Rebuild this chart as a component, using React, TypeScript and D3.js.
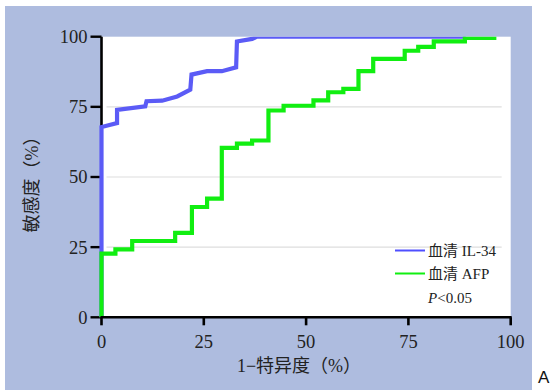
import React from "react";
import * as d3 from "d3";

const il34X = [0, 0, 3.8, 3.8, 10.7, 11.0, 14.8, 18.5, 21.7, 22.0, 25.8, 29.4, 32.9, 33.1, 36.8, 38.0, 89.0];
const il34Y = [0, 67.8, 69.2, 73.9, 75.2, 77.0, 77.2, 78.7, 81.1, 86.5, 87.7, 87.7, 89.1, 98.3, 99.2, 100, 100];

const afpX = [0, 0, 3.4, 3.4, 7.5, 7.5, 18.0, 18.0, 22.1, 22.1, 25.8, 25.8, 29.4, 29.4, 33.1, 33.1, 36.8, 36.8, 40.8, 40.8, 44.5, 44.5, 51.8, 51.8, 55.4, 55.4, 59.1, 59.1, 62.8, 62.8, 66.4, 66.4, 74.1, 74.1, 77.4, 77.4, 81.2, 81.2, 88.8, 88.8, 96.5];
const afpY = [0, 22.7, 22.7, 24.2, 24.2, 27.2, 27.2, 30.1, 30.1, 39.3, 39.3, 42.3, 42.3, 60.4, 60.4, 61.9, 61.9, 63.0, 63.0, 73.7, 73.7, 75.4, 75.4, 77.3, 77.3, 80.2, 80.2, 81.4, 81.4, 87.7, 87.7, 92.1, 92.1, 95.0, 95.0, 96.4, 96.4, 98.3, 98.3, 99.6, 99.6];

const xTicks = [0, 25, 50, 75, 100];
const yTicks = [0, 25, 50, 75, 100];
const gridValues = [25, 50, 75];

const seriesNames = ["血清 IL-34", "血清 AFP"];
const seriesColors = ["#5b5bf6", "#11ee11"];
const legendColors = ["#4f4fff", "#11ee11"];

const xLabel = "1−特异度（%）";
const yLabel = "敏感度（%）";

const W = 552;
const H = 390;
const serif = "'Liberation Serif', 'Times New Roman', 'Noto Sans CJK SC', serif";

export default function App() {
  const x = d3.scaleLinear().domain([0, 100]).range([101.5, 510.7]);
  const y = d3.scaleLinear().domain([0, 100]).range([317.3, 36.7]);

  const line = d3
    .line<[number, number]>()
    .x((d) => x(d[0]))
    .y((d) => y(d[1]));

  const il34 = il34X.map((v, i) => [v, il34Y[i]] as [number, number]);
  const afp = afpX.map((v, i) => [v, afpY[i]] as [number, number]);

  const [x0, x1] = x.range();
  const [yb, yt] = y.range();

  return (
    <svg
      width={W}
      height={H}
      style={{ position: "fixed", left: 0, top: 0, background: "#ffffff" }}
    >
      <defs>
        <clipPath id="plotClip">
          <rect x={x0 - 20} y={yt} width={x1 - x0 + 40} height={yb - yt + 20} />
        </clipPath>
      </defs>
      <rect x={5} y={6} width={527} height={384} fill="#aebcdf" />
      <rect x={x0} y={yt} width={x1 - x0} height={yb - yt} fill="#ffffff" />
      {gridValues.map((g) => (
        <line
          key={"g" + g}
          x1={x0 + 5}
          x2={x1 - 9}
          y1={y(g)}
          y2={y(g)}
          stroke="#dedede"
          strokeWidth={1.2}
        />
      ))}
      {/* y axis */}
      <line x1={x0} x2={x0} y1={yt} y2={yb} stroke="#000" strokeWidth={2.6} />
      {yTicks.map((t) => (
        <g key={"yt" + t}>
          <line x1={x0 - 11} x2={x0} y1={y(t)} y2={y(t)} stroke="#000" strokeWidth={2.4} />
          <text
            x={x0 - 14}
            y={y(t)}
            dy="0.35em"
            textAnchor="end"
            fontFamily={serif}
            fontSize={18.5}
            fill="#222"
          >
            {t}
          </text>
        </g>
      ))}
      <g clipPath="url(#plotClip)">
        <path d={line(il34) || ""} fill="none" stroke={seriesColors[0]} strokeWidth={4.2} />
        <path d={line(afp) || ""} fill="none" stroke={seriesColors[1]} strokeWidth={4.2} />
      </g>
      {/* x axis */}
      <line x1={x0 - 1} x2={x1 + 1} y1={yb} y2={yb} stroke="#000" strokeWidth={2.6} />
      {xTicks.map((t) => (
        <g key={"xt" + t}>
          <line x1={x(t)} x2={x(t)} y1={yb} y2={yb + 8} stroke="#000" strokeWidth={2.6} />
          <text
            x={x(t)}
            y={yb + 24}
            dy="0.35em"
            textAnchor="middle"
            fontFamily={serif}
            fontSize={18.5}
            fill="#222"
          >
            {t}
          </text>
        </g>
      ))}
      <text
        x={299}
        y={366}
        dy="0.35em"
        textAnchor="middle"
        fontFamily={serif}
        fontSize={18}
        fill="#222"
      >
        {xLabel}
      </text>
      <text
        transform={`translate(32,180) rotate(-90)`}
        dy="0.35em"
        textAnchor="middle"
        fontFamily={serif}
        fontSize={18}
        fill="#222"
      >
        {yLabel}
      </text>
      {/* legend */}
      {seriesNames.map((n, i) => (
        <g key={n} transform={`translate(395, ${250.5 + i * 23})`}>
          <line x1={0} x2={30} y1={0} y2={0} stroke={legendColors[i]} strokeWidth={2} />
          <text x={33} y={0} dy="0.35em" fontFamily={serif} fontSize={15} fill="#222">
            {n}
          </text>
        </g>
      ))}
      <text x={428} y={298} dy="0.35em" fontFamily={serif} fontSize={15} fill="#222">
        <tspan fontStyle="italic">P</tspan>
        <tspan>{"<0.05"}</tspan>
      </text>
      <text
        x={538}
        y={383}
        fontFamily="'Liberation Sans', Arial, sans-serif"
        fontSize={17}
        fill="#111"
      >
        A
      </text>
    </svg>
  );
}
